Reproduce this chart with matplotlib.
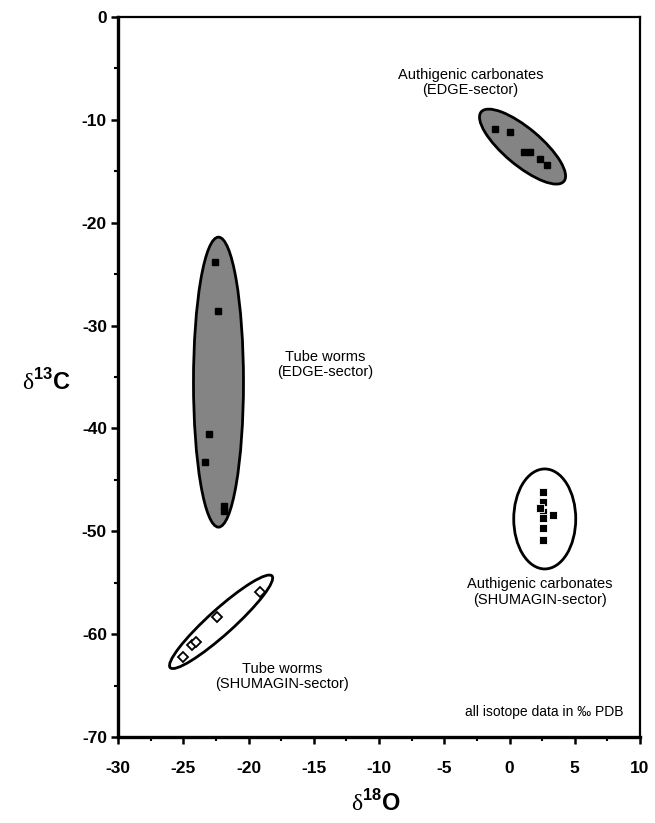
import matplotlib
matplotlib.use("Agg")
import matplotlib.pyplot as plt
from matplotlib.patches import Ellipse
from matplotlib.transforms import ScaledTranslation

plt.rcParams["font.family"] = ["Liberation Sans", "DejaVu Sans"]
plt.rcParams["mathtext.fontset"] = "custom"
plt.rcParams["mathtext.rm"] = "Liberation Serif"
plt.rcParams["mathtext.bf"] = "Liberation Sans:bold"
plt.rcParams["axes.unicode_minus"] = False

# delta18O / delta13C values
edge_carb_x = [-1.1, 0.0, 1.1, 1.6, 2.3, 2.9]
edge_carb_y = [-10.9, -11.2, -13.1, -13.1, -13.8, -14.4]

edge_worm_x = [-22.6, -22.3, -23.0, -23.3, -21.9, -21.9]
edge_worm_y = [-23.8, -28.6, -40.5, -43.3, -47.5, -48.0]

shu_carb_x = [2.6, 2.6, 2.6, 2.6, 2.6, 2.6, 2.3, 3.3]
shu_carb_y = [-46.2, -47.2, -48.1, -48.7, -49.7, -50.8, -47.7, -48.4]

shu_worm_x = [-25.0, -24.3, -24.0, -22.4, -19.1]
shu_worm_y = [-62.2, -61.1, -60.8, -58.3, -55.9]

fig = plt.figure(figsize=(6.55, 8.23), dpi=100)
ax = fig.add_axes([118 / 655, 1 - 737 / 823, 522 / 655, 720 / 823])
ax.set_xlim(-30, 10)
ax.set_ylim(-70, 0)


def group_ellipse(cx, cy, w_px, h_px, angle, filled):
    # ellipse size given in pixels, centred on a data point
    t = fig.dpi_scale_trans + ScaledTranslation(cx, cy, ax.transData)
    e = Ellipse((0, 0), w_px / 100, h_px / 100, angle=angle, transform=t,
                facecolor="#848484" if filled else "white",
                edgecolor="black", linewidth=2, zorder=2)
    ax.add_patch(e)


group_ellipse(1.0, -12.6, 108, 37, -40, True)
group_ellipse(-22.3, -35.5, 50, 290, 0, True)
group_ellipse(2.7, -48.8, 62, 100, 0, False)
group_ellipse(-22.1, -58.8, 137, 25, 42, False)

ax.plot(edge_carb_x, edge_carb_y, "s", color="black", markersize=4.5, zorder=3)
ax.plot(edge_worm_x, edge_worm_y, "s", color="black", markersize=4.5, zorder=3)
ax.plot(shu_carb_x, shu_carb_y, "s", color="black", markeredgecolor="white",
        markeredgewidth=0.6, markersize=6, zorder=3)
ax.plot(shu_worm_x, shu_worm_y, "D", markerfacecolor="white", markeredgecolor="black",
        markeredgewidth=1.3, markersize=5, zorder=3)

lab_kw = dict(ha="center", va="center", fontsize=10.5, linespacing=1.1)
ax.text(-3.0, -6.4, "Authigenic carbonates\n(EDGE-sector)", **lab_kw)
ax.text(-14.1, -33.8, "Tube worms\n(EDGE-sector)", **lab_kw)
ax.text(2.3, -55.9, "Authigenic carbonates\n(SHUMAGIN-sector)", **lab_kw)
ax.text(-17.4, -64.1, "Tube worms\n(SHUMAGIN-sector)", **lab_kw)
ax.text(8.7, -67.6, "all isotope data in \u2030 PDB", ha="right", va="center", fontsize=10)

ax.set_xticks(range(-30, 11, 5))
ax.set_xticks([x + 2.5 for x in range(-30, 10, 5)], minor=True)
ax.set_yticks(range(-70, 1, 10))
ax.set_yticks(range(-65, 0, 10), minor=True)
ax.tick_params(which="major", length=5, width=1.8, labelsize=12.5)
ax.tick_params(which="minor", length=3, width=1.5)
ax.tick_params(axis="x", which="major", pad=12)
ax.tick_params(axis="y", which="major", pad=3)
for lab in ax.get_xticklabels() + ax.get_yticklabels():
    lab.set_fontweight("bold")

for side in ["left", "bottom"]:
    ax.spines[side].set_linewidth(2.4)
for side in ["top", "right"]:
    ax.spines[side].set_linewidth(1.6)

fig.text(46 / 655, 1 - 382 / 823, r"$\mathrm{\delta}^{\mathbf{13}}$C", ha="center", va="center",
         fontsize=17, fontweight="bold")
fig.text(376 / 655, 1 - 803 / 823, r"$\mathrm{\delta}^{\mathbf{18}}$O", ha="center", va="center",
         fontsize=17, fontweight="bold")

plt.savefig("out.png", dpi=100)
